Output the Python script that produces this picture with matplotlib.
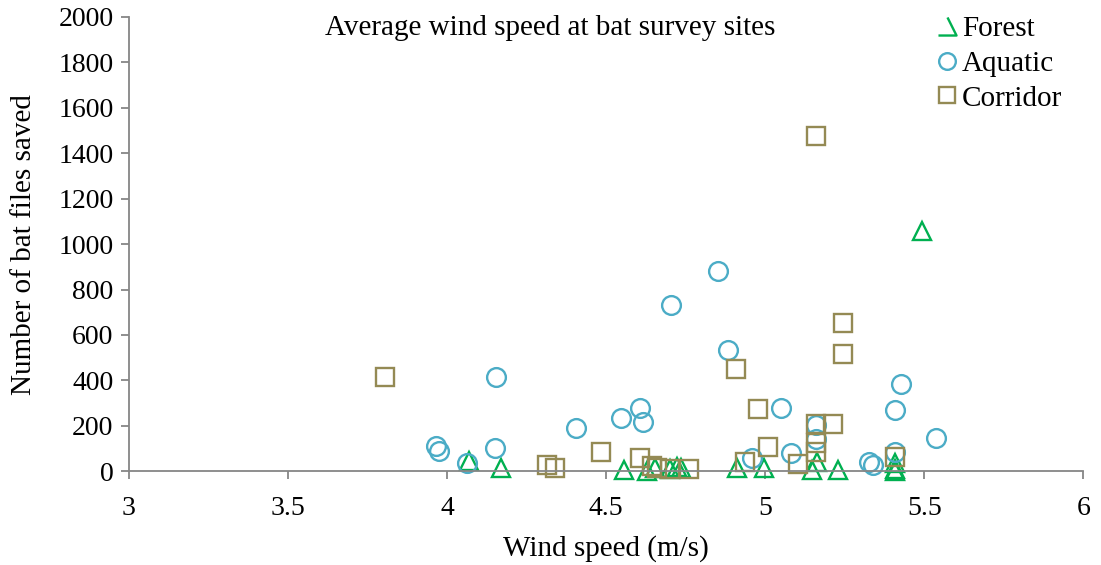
import matplotlib.pyplot as plt
from matplotlib.path import Path

plt.rcParams['font.family'] = ['Liberation Serif', 'DejaVu Serif']

# wind speed (m/s) and bat files saved per site type
forest_x = [4.07, 4.17, 4.557, 4.628, 4.654, 4.701, 4.722, 4.736, 4.91, 4.997,
            5.147, 5.162, 5.23, 5.409, 5.409, 5.409, 5.494]
forest_y = [45, 12, 7, 2, 16, 9, 19, 14, 12, 12, 4, 41, 4, 34, 9, 0, 1057]

aquatic_x = [3.965, 3.975, 4.062, 4.154, 4.151, 4.406, 4.547, 4.607, 4.616,
             4.704, 4.852, 4.884, 4.959, 5.05, 5.08, 5.16, 5.16, 5.325, 5.34,
             5.409, 5.428, 5.409, 5.537]
aquatic_y = [110, 90, 34, 414, 104, 189, 233, 278, 216, 731, 881, 533, 59, 278,
             80, 203, 144, 41, 26, 269, 383, 85, 145]

corridor_x = [3.805, 4.314, 4.34, 4.484, 4.607, 4.643, 4.66, 4.701, 4.759,
              4.909, 4.937, 4.977, 5.01, 5.104, 5.16, 5.16, 5.213, 5.16, 5.16,
              5.244, 5.244, 5.409]
corridor_y = [414, 29, 12, 85, 60, 22, 12, 8, 8, 448, 41, 276, 107, 31, 1476,
              210, 207, 125, 85, 515, 652, 63]

green = '#00B050'
blue = '#4BACC6'
olive = '#948A54'
grey = '#868686'

fig = plt.figure(figsize=(11.01, 5.65), dpi=100)
ax = fig.add_axes([0.117, 0.166, 0.867, 0.804])

ms = 13.5
mew = 1.7
ax.plot(forest_x, forest_y, ls='none', marker='^', ms=ms, mew=mew,
        mfc='none', mec=green, clip_on=False)
ax.plot(aquatic_x, aquatic_y, ls='none', marker='o', ms=ms, mew=mew,
        mfc='none', mec=blue, clip_on=False)
ax.plot(corridor_x, corridor_y, ls='none', marker='s', ms=ms, mew=mew,
        mfc='none', mec=olive, clip_on=False)

ax.set_xlim(3, 6)
ax.set_ylim(0, 2000)
ax.set_xticks([3, 3.5, 4, 4.5, 5, 5.5, 6])
ax.set_xticklabels(['3', '3.5', '4', '4.5', '5', '5.5', '6'])
ax.set_yticks(range(0, 2001, 200))

for side in ['top', 'right']:
    ax.spines[side].set_visible(False)
for side in ['left', 'bottom']:
    ax.spines[side].set_color(grey)
    ax.spines[side].set_linewidth(1.3)
ax.tick_params(axis='both', direction='out', length=6, width=1.3,
               color=grey, labelsize=20)
ax.tick_params(axis='x', pad=12)
ax.tick_params(axis='y', pad=5)

ax.set_xlabel('Wind speed (m/s)', fontsize=21, labelpad=10)
ax.set_ylabel('Number of bat files saved', fontsize=21, labelpad=15)

fig.text(0.5, 0.95, 'Average wind speed at bat survey sites',
         ha='center', va='center', fontsize=21)

# clipped triangle glyph for the legend key
clipped_tri = Path([(0, 1), (1, -1), (-1, -1)],
                   [Path.MOVETO, Path.LINETO, Path.LINETO])
h1 = plt.Line2D([], [], ls='none', marker=clipped_tri, ms=13, mew=mew,
                mfc='none', mec=green)
h2 = plt.Line2D([], [], ls='none', marker='o', ms=12, mew=mew,
                mfc='none', mec=blue)
h3 = plt.Line2D([], [], ls='none', marker='s', ms=12, mew=mew,
                mfc='none', mec=olive)
fig.legend([h1, h2, h3], ['Forest', 'Aquatic', 'Corridor'],
           loc='upper left', bbox_to_anchor=(0.838, 1.0), frameon=False,
           fontsize=21, handlelength=0.6, handletextpad=0.2,
           labelspacing=0.28, borderaxespad=0.15)

fig.savefig('out.png', dpi=100)
